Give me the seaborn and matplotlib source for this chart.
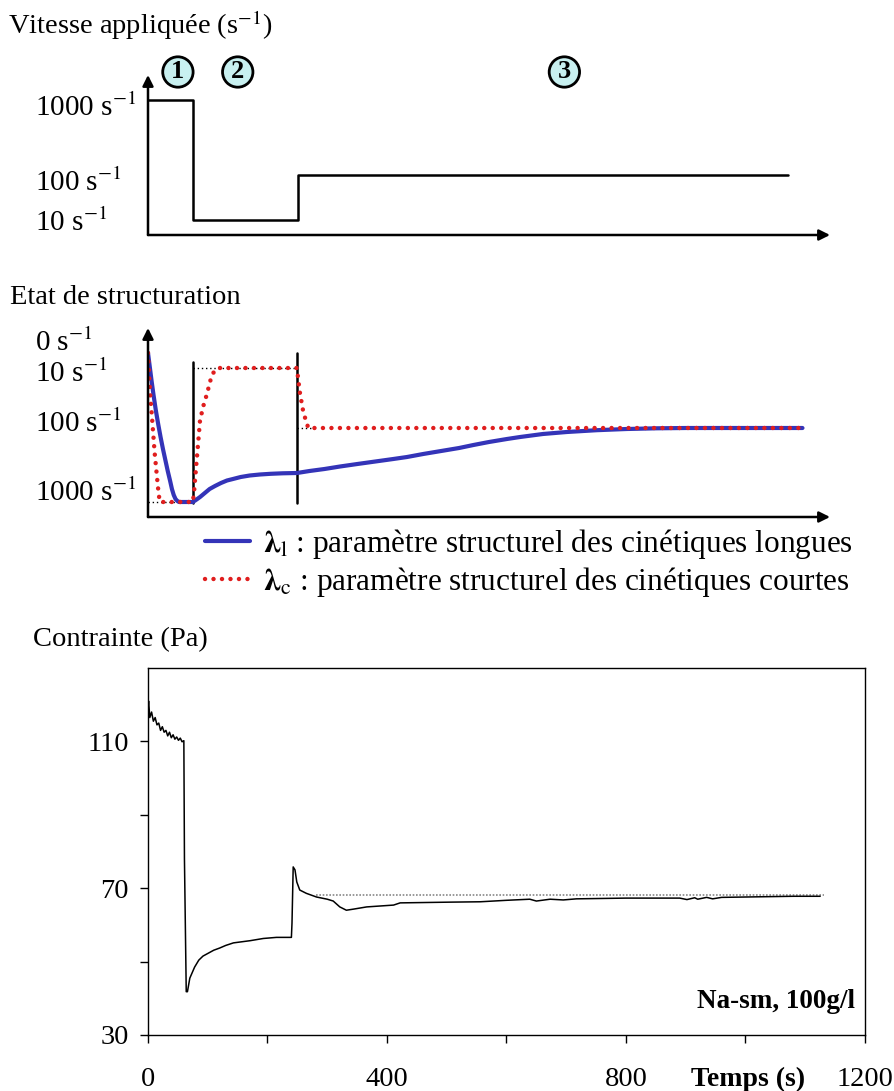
import matplotlib
matplotlib.use('Agg')
import matplotlib.pyplot as plt
import seaborn as sns

sns.set_style('white')
plt.rcParams['font.family'] = ['Liberation Serif', 'DejaVu Serif']
plt.rcParams['mathtext.fontset'] = 'stix'
for key in ['text.color', 'axes.labelcolor', 'xtick.color', 'ytick.color']:
    plt.rcParams[key] = 'black'

# --- panel 1 : applied shear rate (schematic) ---
rate_t = [0, 75, 75, 250, 250, 1070]
rate_y = [135, 135, 15, 15, 60, 60]
rate_ticks = [130, 55, 15]
rate_labels = ['1000 s$^{-1}$', '100 s$^{-1}$', '10 s$^{-1}$']
phase_t = [50, 150, 696]
phase_labels = ['1', '2', '3']

# --- panel 2 : structural state (schematic) ---
lam_l_t = [0, 3, 6, 9, 13, 17, 21, 25, 29, 33, 37, 40, 43, 46, 49, 52, 75, 80,
           87, 95, 103, 112, 122, 132, 142, 155, 170, 187, 205, 225, 249, 270,
           295, 321, 350, 380, 410, 433, 460, 490, 520, 544, 570, 600, 622, 660,
           700, 750, 800, 850, 900, 1094]
lam_l_y = [164, 150, 136, 123, 107, 93, 80, 68, 57, 46, 36, 28, 22, 18, 16, 15, 15, 17,
           20, 24, 28, 31, 34, 36.5, 38, 40, 41.5, 42.5, 43.2, 43.7, 44, 46,
           48, 50.5, 53, 55.5, 58, 60, 63, 66, 69, 72, 75, 78, 80, 83,
           85, 86.8, 88, 88.7, 89, 89]
lam_c_t = [0, 2, 4, 7, 11, 15, 18, 20, 75, 77, 79, 83, 87, 93, 99, 104, 109, 113, 117,
           249, 251, 254, 259, 264, 268, 1094]
lam_c_y = [164, 140, 120, 97, 65, 40, 22, 15, 15, 25, 40, 68, 97, 112, 124, 136, 144, 147, 149,
           149, 138, 124, 107, 96, 89, 89]
struct_ticks = [177, 146, 96, 27]
struct_labels = ['0 s$^{-1}$', '10 s$^{-1}$', '100 s$^{-1}$', '1000 s$^{-1}$']
legend_labels = [r'$\mathbf{\lambda}_{\mathrm{l}}$ : paramètre structurel des cinétiques longues',
                 r'$\mathbf{\lambda}_{\mathrm{c}}$ : paramètre structurel des cinétiques courtes']

# --- panel 3 : measured stress ---
stress_t = [0, 1, 3, 6, 9, 12, 15, 18, 21, 24, 27, 30, 33, 36, 39, 42, 45, 48,
            51, 54, 57, 60, 61, 64, 66, 70, 78, 85, 92, 101, 110, 120, 130, 143,
            157, 171, 193, 215, 240, 241, 243, 246, 249, 254, 265, 282, 300, 310,
            321, 332, 344, 366, 411, 422, 505, 556, 600, 639, 650, 673, 695, 717,
            800, 890, 902, 915, 920, 935, 945, 960, 1000, 1040, 1080, 1125]
stress_y = [119, 121, 116.5, 118, 115.5, 116.5, 114.5, 115, 113, 114, 112.5, 113,
            111.5, 112.5, 111, 111.8, 110.6, 111.2, 110.3, 110.9, 109.9, 110.2, 78,
            41.8, 41.8, 45.5, 48.5, 50.4, 51.5, 52.3, 53.1, 53.7, 54.4, 55.1,
            55.4, 55.7, 56.3, 56.6, 56.6, 60.5, 75.8, 75, 71.7, 69.5, 68.6, 67.6,
            67.0, 66.5, 64.9, 64.0, 64.3, 64.9, 65.4, 66.0, 66.2, 66.3, 66.7, 67.0,
            66.5, 67.0, 66.8, 67.1, 67.3, 67.3, 66.9, 67.4, 67.0, 67.5, 67.1, 67.5,
            67.6, 67.7, 67.8, 67.8]
plateau_t = [282, 1132]
plateau_y = [68.1, 68.1]
stress_major = [30, 70, 110]
stress_minor = [50, 90]
time_major = [0, 400, 800, 1200]
time_minor = [200, 600, 1000]

W, H = 895, 1091
fig = plt.figure(figsize=(W / 100, H / 100), dpi=100)


def px_axes(left, top, right, bottom):
    return fig.add_axes([left / W, 1 - bottom / H, (right - left) / W, (bottom - top) / H])


def arrow_axes(ax):
    for sp in ax.spines.values():
        sp.set_visible(False)
    kw = dict(arrowstyle='-|>', color='black', lw=1.8, mutation_scale=16,
              shrinkA=0, shrinkB=0)
    ax.annotate('', xy=(1, 0), xytext=(0, 0), xycoords='axes fraction', arrowprops=kw)
    ax.annotate('', xy=(0, 1), xytext=(0, 0), xycoords='axes fraction', arrowprops=kw)
    ax.set_xticks([])
    ax.tick_params(axis='y', length=0, pad=81, labelsize=21)
    for lbl in ax.get_yticklabels():
        lbl.set_horizontalalignment('left')


dots = (0, (0.01, 1.9))

# panel 1
ax1 = px_axes(148, 75, 830, 235)
ax1.set_xlim(0, 1140)
ax1.set_ylim(0, 160)
sns.lineplot(x=rate_t, y=rate_y, estimator=None, sort=False, color='black',
             lw=1.8, ax=ax1)
ax1.set_yticks(rate_ticks, rate_labels)
arrow_axes(ax1)
for t, lab in zip(phase_t, phase_labels):
    ax1.text(t, 163, lab, ha='center', va='center', fontsize=19, fontweight='bold',
             clip_on=False,
             bbox=dict(boxstyle='circle,pad=0.14', fc='#c8f0f0', ec='black', lw=2))
fig.text(8 / W, 1 - 25 / H, 'Vitesse appliquée (s$^{-1}$)', fontsize=20.5, va='center')

# panel 2
ax2 = px_axes(148, 328, 830, 517)
ax2.set_xlim(0, 1140)
ax2.set_ylim(0, 189)
ax2.plot([0, 75], [15, 15], color='black', lw=1, ls=(0, (1, 2)))
ax2.plot([75, 249], [149, 149], color='black', lw=1, ls=(0, (1, 2)))
ax2.plot([249, 272], [89, 89], color='black', lw=1, ls=(0, (1, 2)))
ax2.plot([75, 75], [14, 155], color='black', lw=1.8)
ax2.plot([249, 249], [14, 164], color='black', lw=1.8)
sns.lineplot(x=lam_l_t, y=lam_l_y, estimator=None, sort=False, color='#3434b8',
             lw=3, ax=ax2, label=legend_labels[0])
sns.lineplot(x=lam_c_t, y=lam_c_y, estimator=None, sort=False, color='#e01e1e',
             lw=3.2, ls=dots, dash_capstyle='round', ax=ax2, label=legend_labels[1])
ax2.set_yticks(struct_ticks, struct_labels)
arrow_axes(ax2)
ax2.legend(loc='upper left', bbox_to_anchor=(205 / W, 1 - 527 / H),
           bbox_transform=fig.transFigure, frameon=False, fontsize=22.5,
           handlelength=1.45, handletextpad=0.4, labelspacing=0.12,
           borderpad=0, borderaxespad=0)
fig.text(10 / W, 1 - 297 / H, 'Etat de structuration', fontsize=20.5, va='center')

# panel 3
ax3 = px_axes(148, 668, 865, 1035)
sns.lineplot(x=plateau_t, y=plateau_y, estimator=None, sort=False, color='#888888',
             lw=1.2, ls=(0, (1, 1)), ax=ax3)
sns.lineplot(x=stress_t, y=stress_y, estimator=None, sort=False, color='black',
             lw=1.1, ax=ax3)
ax3.set_xlim(0, 1200)
ax3.set_ylim(30, 130)
ax3.set_yticks(stress_major)
ax3.set_yticks(stress_minor, minor=True)
ax3.set_xticks(time_major)
ax3.set_xticks(time_minor, minor=True)
ax3.tick_params(which='both', direction='out', length=6, width=1, color='black',
                left=True, bottom=True)
ax3.tick_params(axis='y', labelsize=20.5, pad=8)
ax3.tick_params(axis='x', labelsize=20.5, pad=17)
for sp in ax3.spines.values():
    sp.set_color('black')
    sp.set_linewidth(1)
ax3.set_xlabel('')
ax3.set_ylabel('')
ax3.text(1183, 39, 'Na-sm, 100g/l', ha='right', va='center', fontsize=19.5,
         fontweight='bold')
ax3.annotate('Temps (s)', xy=(1004, 0), xycoords=('data', 'axes fraction'),
             xytext=(0, -23), textcoords='offset points', ha='center', va='top',
             fontsize=20, fontweight='bold', annotation_clip=False)
fig.text(33 / W, 1 - 640 / H, 'Contrainte (Pa)', fontsize=20.5, va='center')

fig.savefig('out.png', dpi=100)
